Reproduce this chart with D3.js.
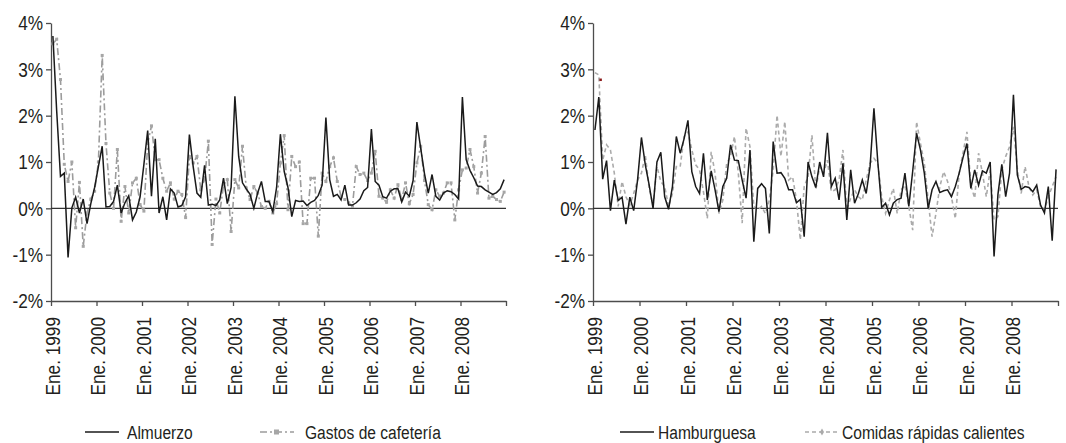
<!DOCTYPE html>
<html>
<head>
<meta charset="utf-8">
<script src="https://cdn.jsdelivr.net/npm/d3@7"></script>
<style>
  body { margin: 0; background: #fff; }
  svg text { font-family: "Liberation Sans", Arial, sans-serif; fill: #231f20; }
</style>
</head>
<body>
<svg id="graph" width="1066" height="443"></svg>
<script>
// etiquetas del eje x (una cada 12 meses, ene. 1999 - dic. 2008)
const years = ["Ene. 1999", "Ene. 2000", "Ene. 2001", "Ene. 2002", "Ene. 2003",
               "Ene. 2004", "Ene. 2005", "Ene. 2006", "Ene. 2007", "Ene. 2008"];
const yTicks = [-2, -1, 0, 1, 2, 3, 4];

// variación mensual (%)
const almuerzo = [
  3.72, 2.1, 0.69, 0.76, -1.06, 0.01, 0.24, -0.1, 0.2, -0.33, 0.1, 0.45,
  0.9, 1.34, 0.03, 0.04, 0.15, 0.5, -0.1, 0.12, 0.27, -0.25, -0.08, 0.25,
  0.95, 1.68, 0.26, 1.5, -0.1, 0.25, -0.25, 0.42, 0.33, 0.03, 0.06, 0.25,
  1.59, 0.9, 0.33, 0.24, 0.93, 0.07, 0.09, 0.06, 0.18, 0.65, 0.1, 0.45,
  2.42, 1.12, 0.55, 0.42, 0.3, 0.0, 0.33, 0.58, 0.15, 0.15, -0.07, 0.45,
  1.6, 0.8, 0.45, -0.18, 0.17, 0.15, 0.16, 0.06, 0.13, 0.17, 0.28, 0.5,
  1.96, 0.62, 0.26, 0.3, 0.18, 0.5, 0.07, 0.07, 0.12, 0.2, 0.38, 0.45,
  1.71, 0.58, 0.5, 0.25, 0.22, 0.37, 0.42, 0.42, 0.14, 0.35, 0.26, 0.6,
  1.86, 1.3, 0.75, 0.33, 0.73, 0.26, 0.18, 0.33, 0.38, 0.36, 0.3, 0.2,
  2.4, 1.05, 0.82, 0.66, 0.48, 0.47, 0.4, 0.35, 0.3, 0.34, 0.42, 0.62
];
const gastosCafeteria = [
  3.55, 3.65, 2.78, 0.95, 0.58, 1.0, -0.42, 0.56, -0.82, -0.1, 0.2, 0.37,
  1.0, 3.3, 1.4, 0.33, 0.0, 1.27, -0.28, 0.47, -0.1, 0.55, 0.65, 0.08,
  -0.06, 1.4, 1.78, 1.05, 1.05, 0.65, 0.37, 0.55, 0.2, 0.37, 0.3, -0.2,
  1.12, 0.98, 1.12, 0.4, 0.62, 1.45, -0.78, 0.2, -0.1, 0.5, 0.62, -0.5,
  0.62, 0.44, 1.34, 0.44, 0.19, 0.47, 0.33, 0.04, 0.0, 0.15, -0.1, 0.1,
  0.98, 1.57, -0.03, 1.12, 0.9, 1.0, -0.33, -0.33, 0.65, 0.65, -0.6, 0.76,
  0.58, 0.9, 1.09, 0.58, 0.26, 0.19, 0.12, 0.04, 0.9, 0.73, 0.76, 0.6,
  0.76, 1.23, 0.26, 0.22, 0.13, 0.4, 0.22, 0.51, 0.19, 0.55, 0.1, 0.3,
  0.98, 1.34, 0.6, 0.08, -0.03, 0.4, 0.26, 0.33, 0.55, 0.55, -0.25, 0.4,
  0.83, 0.87, 1.27, 0.9, 0.33, 0.76, 1.55, 0.22, 0.26, 0.19, 0.15, 0.35
];
const hamburguesa = [
  1.69, 2.4, 0.63, 1.03, -0.05, 0.61, 0.17, 0.24, -0.34, 0.24, -0.05, 0.61,
  1.53, 0.94, 0.5, 0.0, 1.0, 1.21, 0.25, -0.02, 0.47, 1.55, 1.19, 1.5,
  1.9, 0.79, 0.47, 0.32, 1.19, 0.18, 0.81, 0.4, -0.07, 0.47, 0.65, 1.37,
  1.04, 1.03, 0.61, 0.22, 1.26, -0.72, 0.43, 0.53, 0.43, -0.54, 1.44, 0.76,
  0.77, 0.65, 0.4, 0.4, 0.12, 0.19, -0.61, 1.0, 0.68, 0.45, 1.0, 0.68,
  1.63, 0.47, 0.65, 0.18, 0.97, -0.25, 0.83, 0.11, 0.32, 0.61, 0.32, 0.9,
  2.16, 1.0, 0.02, 0.11, -0.14, 0.11, 0.19, 0.22, 0.76, 0.04, 0.8, 1.62,
  1.26, 0.76, 0.0, 0.4, 0.58, 0.34, 0.38, 0.4, 0.25, 0.47, 0.76, 1.1,
  1.4, 0.43, 0.83, 0.5, 0.81, 0.76, 1.0, -1.04, 0.3, 0.95, 0.25, 0.76,
  2.45, 0.72, 0.41, 0.47, 0.45, 0.36, 0.5, 0.07, -0.1, 0.47, -0.7, 0.84
];
const comidasRapidas = [
  2.93, 2.88, 1.04, 1.37, 1.26, 0.76, 0.04, 0.58, 0.25, 0.07, 0.32, 0.61,
  0.76, 1.15, 0.43, 0.07, 0.9, 0.58, 0.47, 0.04, 0.32, 0.9, 0.9, 1.55,
  1.65, 1.26, 0.94, 0.83, 0.36, -0.22, 1.22, 0.76, -0.11, 0.18, 0.97, 1.12,
  1.55, 0.76, -0.32, 1.73, 1.33, 0.04, -0.04, 0.04, -0.11, 0.18, 0.83, 2.01,
  1.12, 1.87, 0.61, 0.68, 0.18, -0.68, 0.47, 0.68, 1.58, 0.4, 0.9, 0.76,
  1.04, 0.36, 0.4, 0.61, 1.26, -0.04, 0.22, 0.4, 0.25, 0.18, 0.61, 0.97,
  1.08, 0.97, 0.25, -0.11, 0.18, 0.43, -0.11, 0.4, 0.5, 0.04, -0.47, 1.87,
  1.4, 0.97, 0.18, -0.61, -0.11, 0.47, 0.79, 0.58, 0.25, -0.22, 0.76, 1.2,
  1.65, 0.5, 0.22, 1.19, 0.76, 0.25, 0.83, -0.25, -0.18, 0.83, 1.12, 1.33,
  1.76, 0.86, 0.32, 0.9, 0.47, 0.29, 0.4, 0.04, -0.04, 0.25, 0.47, 0.68
];
// punto suelto (rojo oscuro) en el panel derecho
const marcaSuelta = [{i: 1.9, v: 2.78}];

const svg = d3.select("#graph");
const plotTop = 23, plotBottom = 301;
const nMonths = 120;
const narrow = 0.82;   // letra condensada: se estrecha Liberation Sans

function panel(left, right, s1, s2, style2, legend) {
  const g = svg.append("g");
  const x = d3.scaleLinear().domain([0, nMonths]).range([left, right]);
  const y = d3.scaleLinear().domain([-2, 4]).range([plotBottom, plotTop]);

  // eje y
  g.append("g")
      .attr("transform", `translate(${left},0)`)
      .attr("font-family", null)
      .call(d3.axisLeft(y).tickValues(yTicks).tickSize(5).tickSizeOuter(0).tickPadding(4)
            .tickFormat(d => d + "%"))
      .call(a => a.selectAll("line, path").attr("stroke", "#4d4d4d").attr("stroke-width", 1.3))
      .call(a => a.selectAll("text")
            .attr("font-size", 21)
            .attr("x", 0)
            .attr("transform", `translate(-8,0) scale(${narrow},1)`));

  // eje x (marcas cada 12 meses)
  g.append("g")
      .attr("transform", `translate(0,${plotBottom})`)
      .call(d3.axisBottom(x).tickValues(d3.range(0, nMonths + 1, 12)).tickSize(5)
            .tickSizeOuter(0).tickFormat(""))
      .call(a => a.selectAll("line, path").attr("stroke", "#4d4d4d").attr("stroke-width", 1.3));

  g.append("g").selectAll("text")
      .data(years)
      .join("text")
      .attr("transform", (d, k) =>
            `translate(${x(k * 12 + 0.5) + 7},${plotBottom + 16}) rotate(-90) scale(${narrow},1)`)
      .attr("text-anchor", "end")
      .attr("font-size", 21)
      .text(d => d);

  // línea de cero
  g.append("line")
      .attr("x1", left).attr("x2", right)
      .attr("y1", y(0)).attr("y2", y(0))
      .attr("stroke", "#333").attr("stroke-width", 1.3);

  const line = d3.line().x((d, i) => x(i + 0.5)).y(d => y(d));

  g.append("path")
      .datum(s2)
      .attr("fill", "none")
      .attr("stroke", style2.color)
      .attr("stroke-width", 1.6)
      .attr("stroke-dasharray", style2.dash)
      .attr("d", line);

  if (style2.squares) {
    g.append("g").selectAll("rect")
        .data(s2)
        .join("rect")
        .attr("x", (d, i) => x(i + 0.5) - 1.5)
        .attr("y", d => y(d) - 1.5)
        .attr("width", 3).attr("height", 3)
        .attr("fill", "#a6a6a6");
  }

  g.append("path")
      .datum(s1)
      .attr("fill", "none")
      .attr("stroke", "#1a1a1a")
      .attr("stroke-width", 1.5)
      .attr("d", line);

  // leyenda
  const lg = g.append("g").attr("font-size", 19);
  lg.append("line")
      .attr("x1", legend.x1).attr("x2", legend.x1 + 34).attr("y1", 432).attr("y2", 432)
      .attr("stroke", "#1a1a1a").attr("stroke-width", 1.5);
  lg.append("text")
      .attr("transform", `translate(${legend.t1},439) scale(${narrow},1)`)
      .text(legend.n1);
  lg.append("line")
      .attr("x1", legend.x2).attr("x2", legend.x2 + 34).attr("y1", 432).attr("y2", 432)
      .attr("stroke", style2.color).attr("stroke-width", 1.5)
      .attr("stroke-dasharray", style2.dash);
  if (style2.squares) {
    lg.append("rect").attr("x", legend.x2 + 14).attr("y", 429.5).attr("width", 5).attr("height", 5)
        .attr("fill", "#a6a6a6");
  } else {
    lg.append("path").attr("d", d3.symbol(d3.symbolDiamond, 14)())
        .attr("transform", `translate(${legend.x2 + 17},432)`).attr("fill", "#aaa");
  }
  lg.append("text")
      .attr("transform", `translate(${legend.t2},439) scale(${narrow},1)`)
      .text(legend.n2);

  return {x, y, g};
}

panel(51, 506, almuerzo, gastosCafeteria,
      {color: "#9c9c9c", dash: "7,3,2,3", squares: true},
      {x1: 85, t1: 127, n1: "Almuerzo", x2: 260, t2: 305, n2: "Gastos de cafetería"});

const right = panel(593, 1058, hamburguesa, comidasRapidas,
      {color: "#ababab", dash: "4,3", squares: false},
      {x1: 620, t1: 658, n1: "Hamburguesa", x2: 805, t2: 842, n2: "Comidas rápidas calientes"});

right.g.selectAll(".marca")
    .data(marcaSuelta)
    .join("rect")
    .attr("class", "marca")
    .attr("x", d => right.x(d.i) - 1)
    .attr("y", d => right.y(d.v) - 1)
    .attr("width", 2.5).attr("height", 2.5)
    .attr("fill", "#8b1a1a");
</script>
</body>
</html>
